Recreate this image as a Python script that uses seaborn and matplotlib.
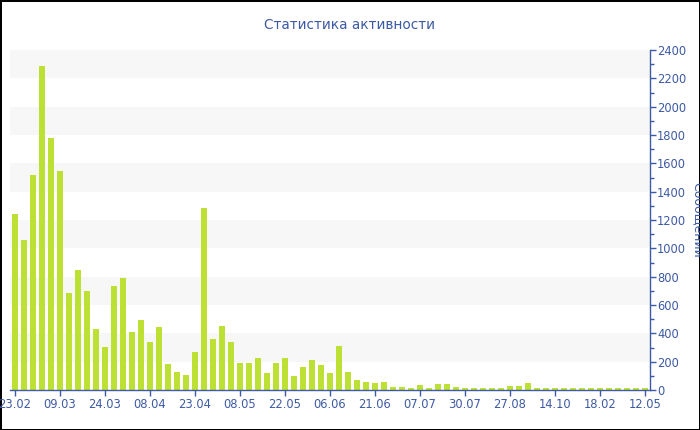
import numpy as np
import matplotlib
matplotlib.use('Agg')
import matplotlib.pyplot as plt
from matplotlib.ticker import MultipleLocator
import seaborn as sns

# ── Data ──────────────────────────────────────────────────
messages = [1242, 1059, 1518, 2287, 1781, 1546, 682, 847, 701, 431,
            306, 734, 788, 412, 494, 341, 447, 186, 129, 106,
            268, 1287, 358, 454, 341, 188, 188, 228, 118, 193,
            228, 99, 160, 212, 176, 118, 313, 127, 68, 54,
            47, 59, 19, 19, 12, 35, 16, 42, 42, 19,
            14, 14, 14, 12, 12, 26, 26, 52, 16, 16,
            12, 16, 16, 12, 12, 12, 12, 12, 12, 12, 12]
bar_idx = list(range(len(messages)))
tick_labels = ['23.02', '09.03', '24.03', '08.04', '23.04', '08.05', '22.05',
               '06.06', '21.06', '07.07', '30.07', '27.08', '14.10', '18.02', '12.05']
title = 'Статистика активности'
y_label = 'Сообщений'

blue = '#3d5aa4'
bar_color = '#bce034'
band_color = '#f7f7f7'

sns.set_theme(style='white')
plt.rcParams['font.family'] = ['DejaVu Sans']

fig = plt.figure(figsize=(7, 4.3), dpi=100)
fig.patch.set_edgecolor('black')
fig.patch.set_linewidth(2)
ax = fig.add_axes([10/700, 40/430, 640/700, 340/430])

# alternating background bands
for lo in range(200, 2400, 400):
    ax.axhspan(lo, lo + 200, color=band_color, zorder=0, lw=0)

sns.barplot(x=bar_idx, y=messages, color=bar_color, saturation=1,
            width=0.75, linewidth=0, edgecolor='none', ax=ax, zorder=2)

ax.set_xlim(-0.56, len(messages) - 1 + 0.56)
ax.set_ylim(0, 2400)
ax.set_xticks(bar_idx[::5])
ax.set_xticklabels(tick_labels)
ax.set_xlabel('')
ax.set_ylabel('')

ax.yaxis.tick_right()
ax.yaxis.set_major_locator(MultipleLocator(200))
ax.yaxis.set_minor_locator(MultipleLocator(100))
ax.tick_params(axis='y', which='major', length=4, width=1, color=blue,
               labelcolor=blue, labelsize=8.3, pad=1, right=True, left=False)
ax.tick_params(axis='y', which='minor', length=3, width=1, color=blue,
               right=True, left=False)
ax.tick_params(axis='x', length=4, width=1, color=blue, labelcolor=blue,
               labelsize=8.3, pad=2, bottom=True)

for side in ['top', 'left']:
    ax.spines[side].set_visible(False)
for side in ['right', 'bottom']:
    ax.spines[side].set_color(blue)
    ax.spines[side].set_linewidth(1)

fig.text(0.5, 1 - 25/430, title, ha='center', va='center',
         color=blue, fontsize=9.8)
fig.text(697/700, 1 - 220/430, y_label, ha='center', va='center',
         rotation=270, color=blue, fontsize=9)

fig.savefig('out.png', dpi=100, edgecolor=fig.get_edgecolor())
